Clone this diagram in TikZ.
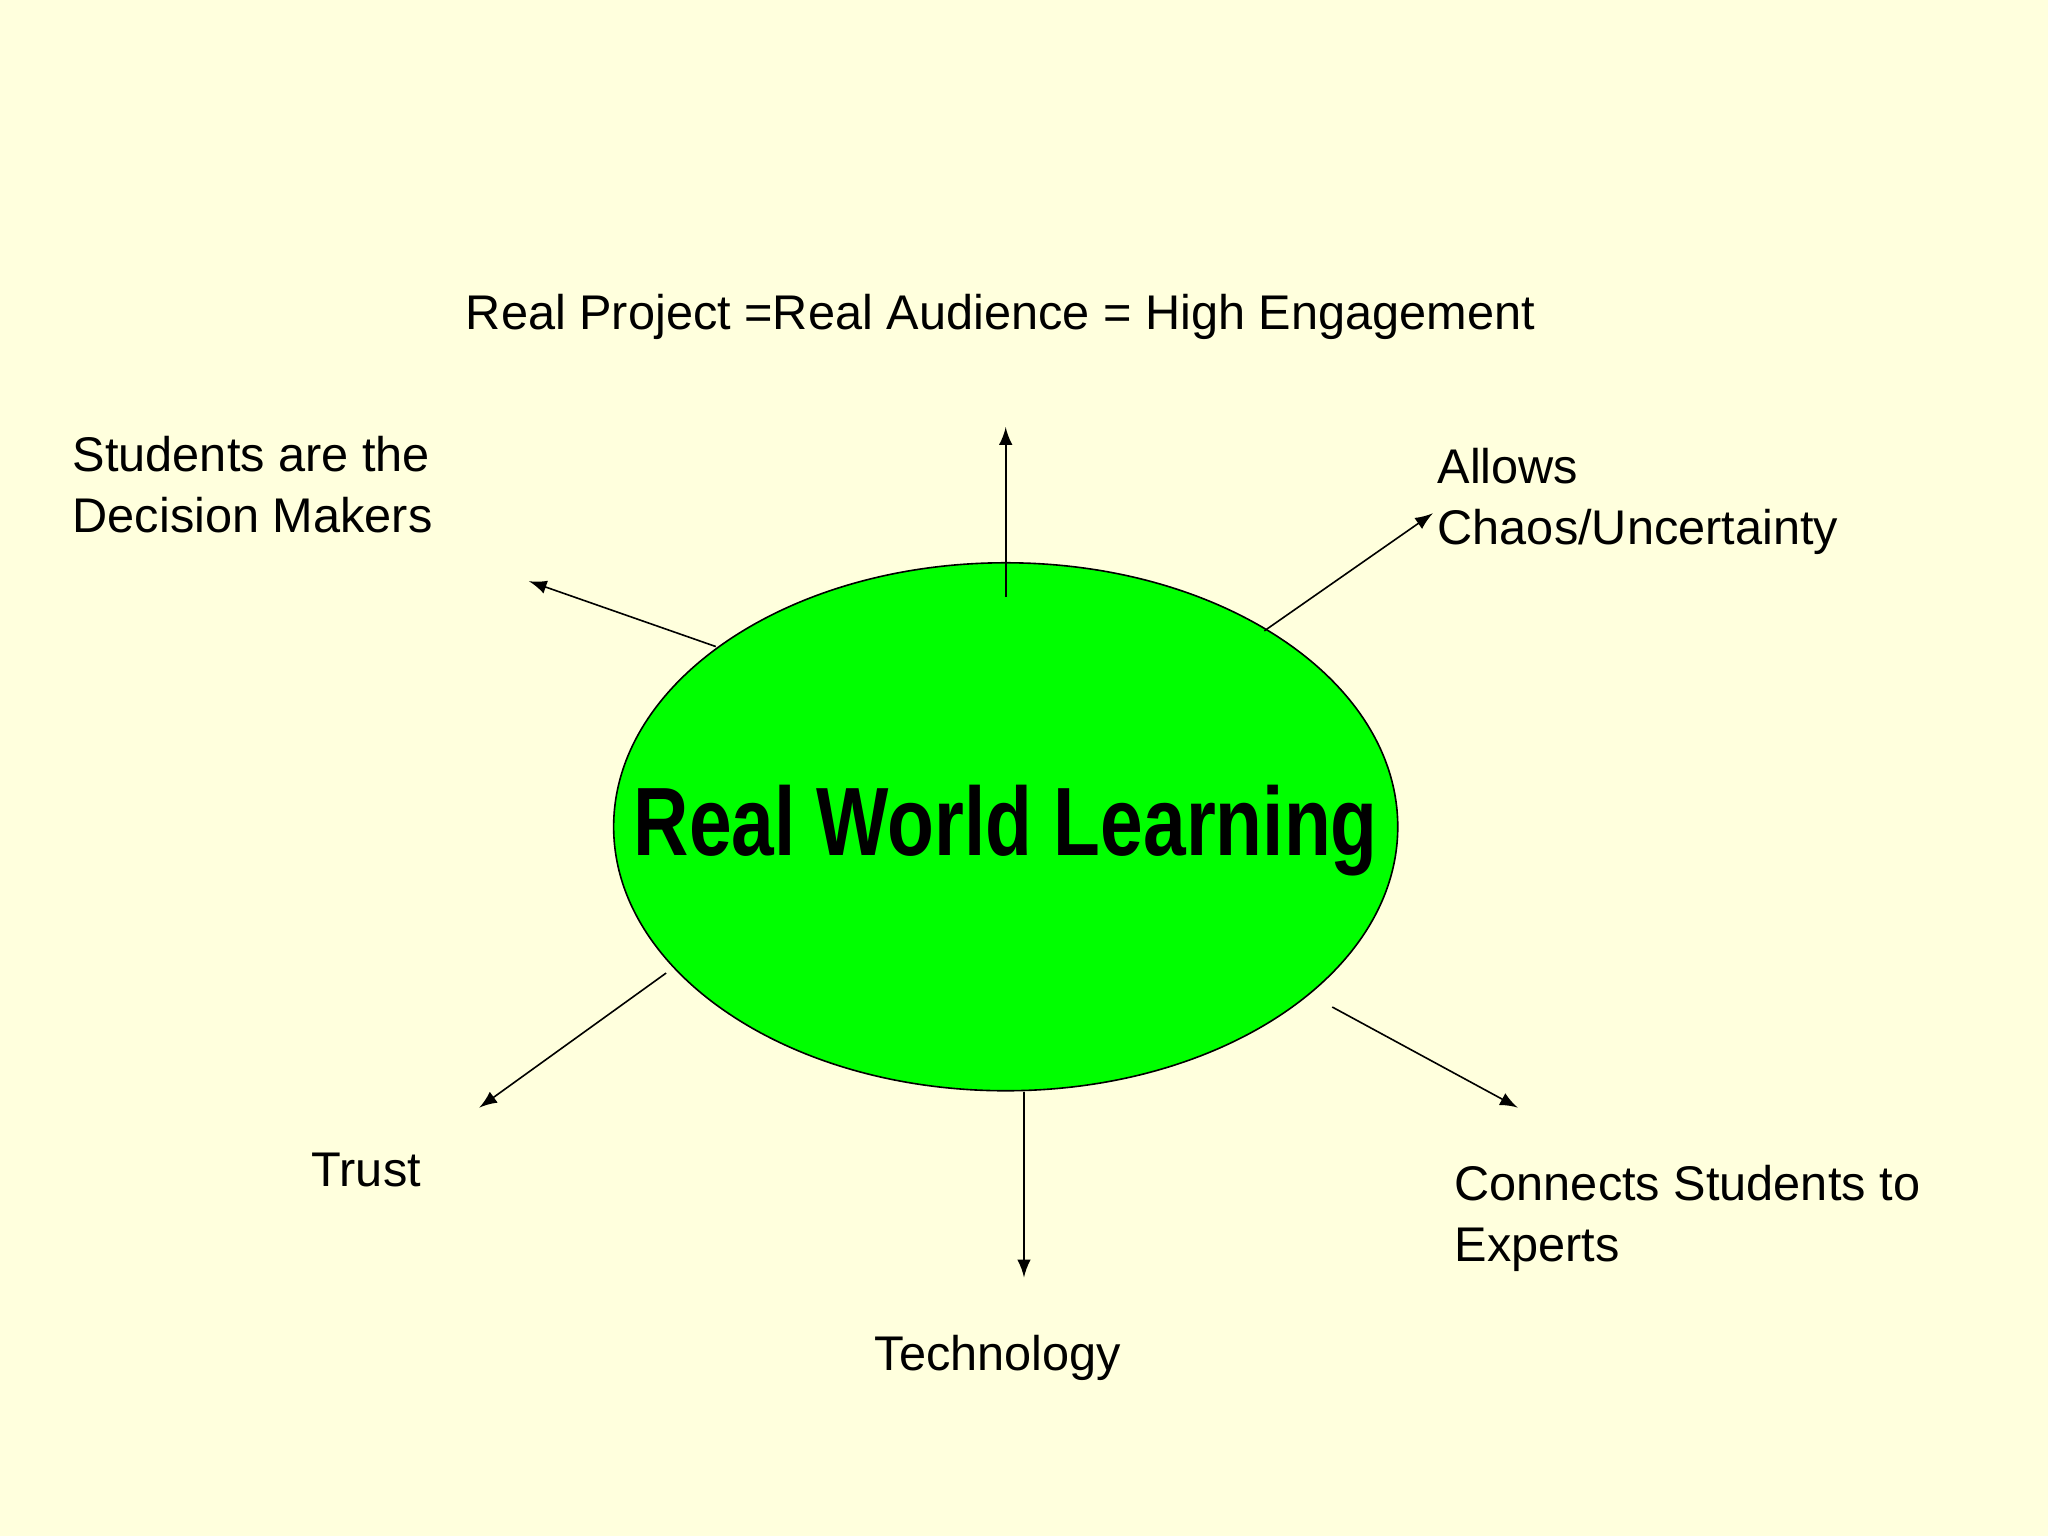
\documentclass[tikz,border=0pt]{standalone}
\usepackage{fontspec}
\usepackage{graphicx}
\usetikzlibrary{shapes.geometric}
\setmainfont{Liberation Sans}
\begin{document}
\begin{tikzpicture}[x=0.01cm,y=-0.01cm,
  lbl/.style={anchor=west,inner sep=0pt,align=left,font=\fontsize{10.6}{13.3}\selectfont},
  arr/.style={-latex,line width=0.35pt}]
\fill[fill={rgb,255:red,255;green,255;blue,221}] (0,0) rectangle (1568,1176);
\useasboundingbox (0,0) rectangle (1568,1176);
\node[ellipse,draw,line width=0.35pt,fill={rgb,255:red,0;green,255;blue,0},minimum width=6cm,minimum height=4.04cm,inner sep=0pt] (e) at (770,633) {};
\node (title) at (770,636) {\resizebox*{162pt}{19.8pt}{\bfseries Real World Learning}};
\node[lbl] (t1) at (356,243) {Real Project =Real Audience = High Engagement};
\node[lbl] (t2) at (55,371) {Students are the\\Decision Makers};
\node[lbl] (t3) at (1100,384) {Allows\\Chaos/Uncertainty};
\node[lbl] (t4) at (238,896) {Trust};
\node[lbl] (t5) at (669,1040) {Technology};
\node[lbl] (t6) at (1113,933) {Connects Students to\\Experts};
\coordinate (a1) at (770,457); \coordinate (b1) at (770,327);
\coordinate (a2) at (548,495); \coordinate (b2) at (405,445);
\coordinate (a3) at (968,483); \coordinate (b3) at (1097,393);
\coordinate (a4) at (510,745); \coordinate (b4) at (367,848);
\coordinate (a5) at (784,836); \coordinate (b5) at (784,978);
\coordinate (a6) at (1020,771); \coordinate (b6) at (1162,848);
\foreach \i in {1,...,6} \draw[arr] (a\i) -- (b\i);
\end{tikzpicture}
\end{document}
